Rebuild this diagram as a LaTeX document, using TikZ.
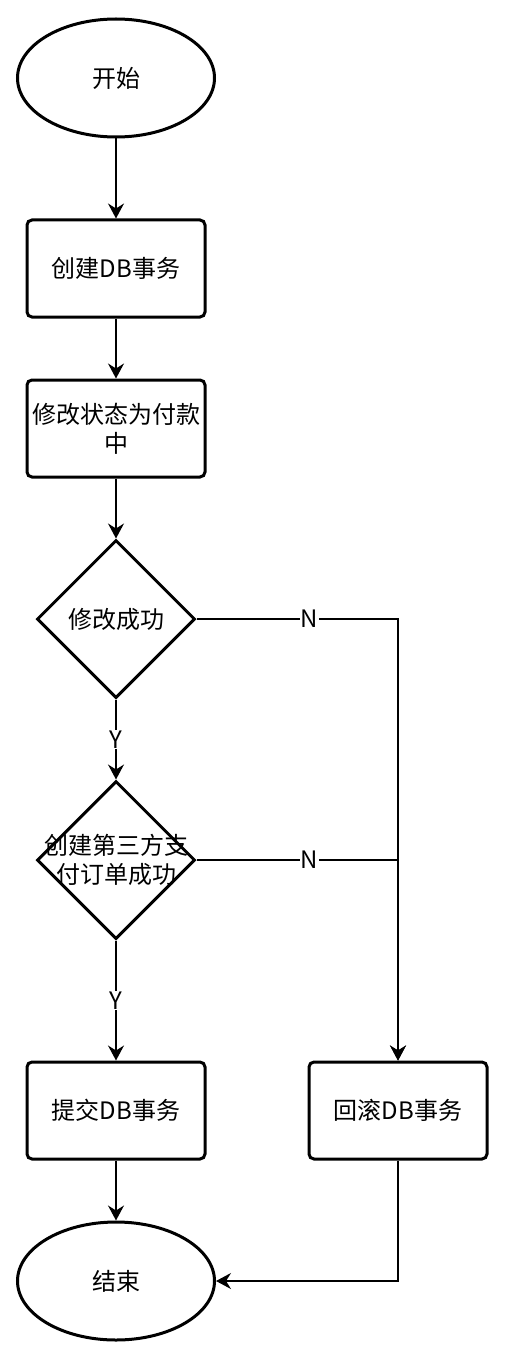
\documentclass[tikz,border=0pt]{standalone}
\usepackage{fontspec}
\setmainfont{Noto Sans CJK SC}
\usepackage{tikz}
\usetikzlibrary{arrows.meta, positioning, shapes.geometric}

\begin{document}
\begin{tikzpicture}[
    x=1pt, y=-1pt,
    every node/.style={font=\fontsize{24}{29}\selectfont},
    term/.style={draw, ellipse, line width=3pt, minimum width=197pt, minimum height=118pt},
    box/.style={draw, line width=3pt, rounded corners=5pt, inner sep=2pt,
                minimum width=178pt, minimum height=97pt, align=center},
    decide/.style={draw, diamond, line width=3pt, inner sep=0pt,
                   minimum width=158pt, minimum height=158pt},
    flow/.style={-{Stealth[length=15pt, width=16pt, inset=5pt]}, line width=1.5pt},
    lbl/.style={fill=white, inner sep=1pt},
  ]
  \useasboundingbox (0,0) rectangle (507,1356);

  \node[term] (start) at (116,78) {开始};
  \node[box, below=80pt of start] (create) {创建DB事务};
  \node[box, below=60pt of create] (status) {修改状态为付款\\中};
  \node[decide, below=60pt of status] (ok) {};
  \node[align=center] (oktxt) at (ok) {修改成功};
  \node[decide, below=80pt of ok] (pay) {};
  \node[align=center] (paytxt) at (pay) {创建第三方支\\付订单成功};
  \node[box, below=120pt of pay] (commit) {提交DB事务};
  \node[term, below=60pt of commit] (stop) {结束};
  \node[box, right=101pt of commit] (rollback) {回滚DB事务};

  \draw[flow] (start) -- (create);
  \draw[flow] (create) -- (status);
  \draw[flow] (status) -- (ok);
  \draw[flow] (ok) -- node[lbl]{Y} (pay);
  \draw[flow] (pay) -- node[lbl]{Y} (commit);
  \draw[flow] (ok) -| node[lbl, pos=0.28]{N} (rollback);
  \draw[flow] (pay) -| node[lbl, pos=0.28]{N} (rollback);
  \draw[flow] (commit) -- (stop);
  \draw[flow] (rollback) |- (stop);
\end{tikzpicture}
\end{document}
